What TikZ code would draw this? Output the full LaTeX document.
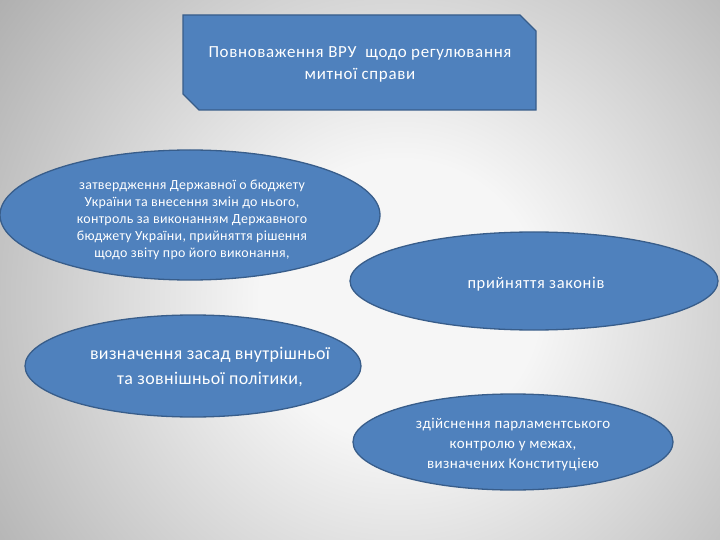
\documentclass[tikz,border=0pt]{standalone}
\usepackage{fontspec}
\setmainfont{Carlito}
\usetikzlibrary{shapes.geometric}
\definecolor{fillblue}{HTML}{4F81BD}
\definecolor{lineblue}{HTML}{385D8A}
\definecolor{bgin}{RGB}{246,246,246}
\definecolor{bgout}{RGB}{145,145,145}
\pgfdeclareradialshading{bgshade}{\pgfpoint{0bp}{0bp}}{color(0bp)=(bgin); color(7bp)=(bgin); color(33bp)=(bgout); color(60bp)=(bgout)}
\begin{document}
\begin{tikzpicture}[x=1bp,y=-1bp,
  blob/.style={ellipse, draw=lineblue, line width=1.3bp, fill=fillblue, inner sep=0pt},
  label/.style={text=white, align=center, inner sep=0pt},
  topshape/.style={draw=lineblue, line width=1.3bp, fill=fillblue, line join=miter}]
\useasboundingbox (0,0) rectangle (720,540);
\begin{scope}
\clip (0,0) rectangle (720,540);
\shade[shading=bgshade] (-100,-200) rectangle (900,800);
\end{scope}
% top box (snipped diagonal corners)
\coordinate (tl) at (183,15);
\coordinate (br) at (536,110);
\draw[topshape] (tl) -- (520,15) -- (536,31) -- (br) -- (199,110) -- (183,94) -- cycle;
\node[label, font=\fontsize{17}{22}\selectfont\addfontfeature{LetterSpace=4}] (toptext) at (360,64)
  {Повноваження ВРУ \ щодо регулювання\\митної справи};
% ellipses
\node[blob, minimum width=380bp, minimum height=130bp] (e1) at (190,215) {};
\node[label, font=\fontsize{14}{17}\selectfont\addfontfeature{LetterSpace=2}] (t1) at (192,220)
  {затвердження Державної о бюджету\\України та внесення змін до нього,\\контроль за виконанням Державного\\бюджету України, прийняття рішення\\щодо звіту про його виконання,};
\node[blob, minimum width=368bp, minimum height=98bp] (e2) at (534,281) {};
\node[label, font=\fontsize{16.5}{20}\selectfont\addfontfeature{LetterSpace=4}] (t2) at (536,284) {прийняття законів};
\node[blob, minimum width=336bp, minimum height=102bp] (e3) at (193,366) {};
\node[label, font=\fontsize{18}{25}\selectfont\addfontfeature{LetterSpace=2}] (t3) at (210,367)
  {визначення засад внутрішньої\\та зовнішньої політики,};
\node[blob, minimum width=320bp, minimum height=96bp] (e4) at (513,442) {};
\node[label, font=\fontsize{15}{20}\selectfont\addfontfeature{LetterSpace=3}] (t4) at (513,445)
  {здійснення парламентського\\контролю у межах,\\визначених Конституцією};
\end{tikzpicture}
\end{document}
